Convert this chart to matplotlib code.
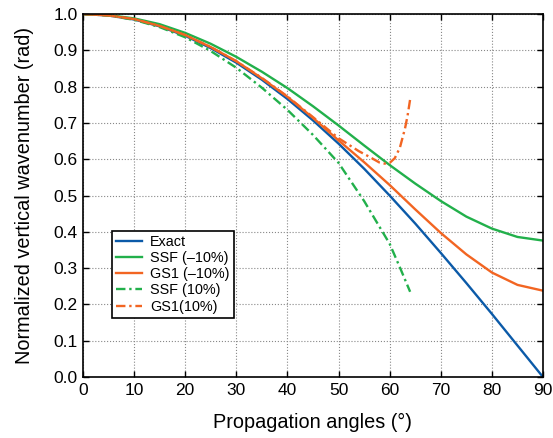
import numpy as np
import matplotlib
matplotlib.use('Agg')
import matplotlib.pyplot as plt

# values
angles = [0, 5, 10, 15, 20, 25, 30, 35, 40, 45, 50, 55, 60, 65, 70, 75, 80, 85, 90]
exact = [1.0, 0.996, 0.985, 0.966, 0.940, 0.906, 0.866, 0.819, 0.766, 0.707,
         0.643, 0.574, 0.500, 0.423, 0.342, 0.259, 0.174, 0.087, 0.0]
ssf_m10 = [1.0, 0.997, 0.988, 0.972, 0.948, 0.918, 0.882, 0.841, 0.796, 0.746,
           0.693, 0.638, 0.584, 0.533, 0.485, 0.442, 0.409, 0.386, 0.376]
gs1_m10 = [1.0, 0.996, 0.986, 0.967, 0.942, 0.909, 0.870, 0.823, 0.772, 0.714,
           0.652, 0.592, 0.529, 0.462, 0.397, 0.338, 0.288, 0.254, 0.238]

angles_ssf10 = [0, 5, 10, 15, 20, 25, 30, 35, 40, 45, 50, 55, 60, 62, 64]
ssf_p10 = [1.0, 0.996, 0.984, 0.964, 0.936, 0.898, 0.852, 0.797, 0.736, 0.667,
           0.590, 0.485, 0.367, 0.302, 0.235]

angles_gs10 = [0, 5, 10, 15, 20, 25, 30, 35, 40, 45, 50, 52, 54, 56, 58, 59, 60,
               61, 62, 63, 63.5, 64]
gs1_p10 = [1.0, 0.996, 0.986, 0.967, 0.942, 0.909, 0.870, 0.824, 0.773, 0.716,
           0.658, 0.640, 0.622, 0.607, 0.591, 0.588, 0.590, 0.603, 0.632, 0.685,
           0.720, 0.765]

blue = '#0b5aa8'
green = '#22b04b'
orange = '#f26522'

plt.rcParams['font.family'] = ['Liberation Sans', 'DejaVu Sans']

fig = plt.figure(figsize=(5.53, 4.38), dpi=100)
ax = fig.add_axes([0.150, 0.139, 0.832, 0.829])

dashdot = (0, (4, 1.6, 1, 1.6))
ax.plot(angles, exact, color=blue, lw=1.7, label='Exact')
ax.plot(angles, ssf_m10, color=green, lw=1.7, label='SSF (\u201310%)')
ax.plot(angles, gs1_m10, color=orange, lw=1.7, label='GS1 (\u201310%)')
ax.plot(angles_ssf10, ssf_p10, color=green, lw=1.7, ls=dashdot, label='SSF (10%)')
ax.plot(angles_gs10, gs1_p10, color=orange, lw=1.7, ls=dashdot, label='GS1(10%)')

ax.set_xlim(0, 90)
ax.set_ylim(0, 1)
ax.set_xticks(np.arange(0, 91, 10))
ax.set_yticks(np.arange(0, 1.01, 0.1))
ax.set_yticklabels(['%.1f' % v for v in np.arange(0, 1.01, 0.1)])
ax.tick_params(direction='in', top=True, right=True, length=4, labelsize=12.5,
               width=1, pad=4)
ax.grid(True, ls=':', color='#888888', lw=0.8)
for s in ax.spines.values():
    s.set_linewidth(1.2)

ax.set_xlabel('Propagation angles (\u00b0)', fontsize=14.3, labelpad=11)
ax.set_ylabel('Normalized vertical wavenumber (rad)', fontsize=14.3, labelpad=14)

leg = ax.legend(loc='lower left', bbox_to_anchor=(0.063, 0.163), fontsize=10.4,
                frameon=True, fancybox=False, edgecolor='black', framealpha=1,
                handlelength=1.8, handletextpad=0.55, borderpad=0.3,
                labelspacing=0.15, borderaxespad=0)
leg.get_frame().set_linewidth(1.2)

fig.savefig('out.png', dpi=100)
